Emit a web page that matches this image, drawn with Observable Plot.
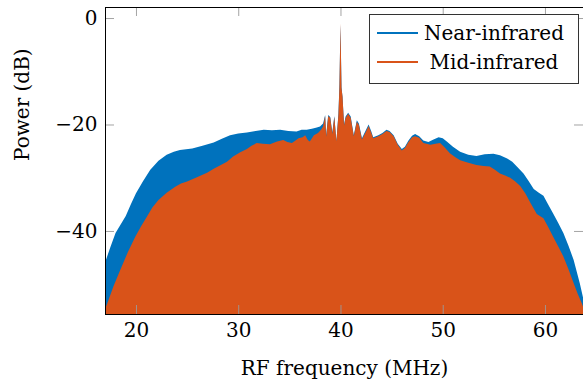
<!DOCTYPE html>
<html>
<head>
<meta charset="utf-8">
<script src="https://cdn.jsdelivr.net/npm/d3@7"></script>
<script src="https://cdn.jsdelivr.net/npm/@observablehq/plot@0.6"></script>
<style>
  html, body { margin: 0; padding: 0; background: #fff; }
  #chart svg { display: block; }
</style>
</head>
<body>
<div id="chart"></div>
<script>
// ---- Data ----
const seriesNames = ["Near-infrared", "Mid-infrared"];
const seriesColors = ["#0072BD", "#D95319"];

const xTicks = [20, 30, 40, 50, 60];
const yTicks = [0, -20, -40];
const xDomain = [16.97, 63.72];
const yDomain = [-55.6, 2.07];

// Near-infrared envelope (MHz, dB)
const nirFreq = [17.0, 17.5, 18.0, 18.5, 19.0, 19.5, 20.0, 20.7, 21.4, 22.2, 23.0, 23.7, 24.3, 25.5, 26.5, 27.6, 28.4, 29.2, 30.0, 30.85, 31.7, 32.5, 33.3, 34.1, 34.9, 35.7, 36.2, 36.7, 37.2, 37.6, 38.0, 38.3, 38.5, 38.6, 38.8, 39.0, 39.2, 39.4, 39.6, 39.8, 39.9, 40.0, 40.1, 40.2, 40.35, 40.5, 40.75, 41.0, 41.3, 41.6, 41.8, 42.1, 42.5, 42.75, 43.0, 43.2, 43.7, 44.1, 44.5, 44.8, 45.2, 45.6, 46.0, 46.3, 46.65, 47.0, 47.3, 47.7, 48.1, 48.6, 49.1, 49.6, 50.0, 50.4, 51.0, 51.7, 52.5, 53.3, 54.1, 54.96, 55.6, 56.3, 56.8, 57.25, 57.9, 58.4, 58.9, 59.4, 59.85, 60.3, 60.8, 61.3, 61.8, 62.3, 62.8, 63.4, 63.7, 64.0];
const nirPower = [-45.8, -43.0, -40.4, -38.8, -37.2, -35.0, -32.9, -30.6, -28.5, -26.8, -25.7, -25.1, -24.8, -24.5, -24.0, -23.4, -22.7, -22.0, -21.7, -21.5, -21.2, -21.0, -21.1, -21.0, -21.2, -21.3, -21.0, -21.0, -20.8, -20.6, -20.4, -19.8, -18.2, -22.0, -18.2, -18.6, -21.5, -18.4, -23.2, -18.0, -12.5, -1.3, -13.0, -14.8, -20.0, -18.5, -17.8, -18.5, -22.0, -19.2, -19.8, -22.6, -21.0, -20.0, -21.2, -22.4, -22.0, -21.6, -21.0, -21.2, -22.0, -23.6, -24.6, -24.2, -23.0, -22.1, -21.8, -22.2, -23.0, -23.3, -22.8, -22.4, -22.6, -23.2, -24.2, -25.1, -25.7, -25.9, -25.6, -25.5, -25.8, -26.4, -27.0, -27.9, -29.2, -30.6, -32.1, -32.8, -33.4, -35.0, -36.7, -38.5, -40.4, -42.8, -45.4, -49.8, -52.3, -55.0];

// Mid-infrared envelope (MHz, dB)
const mirFreq = [17.0, 17.2, 17.8, 18.47, 19.2, 19.93, 20.5, 21.08, 21.6, 22.2, 23.0, 23.84, 24.4, 25.0, 25.96, 27.0, 27.6, 28.3, 28.9, 29.5, 30.2, 30.85, 31.3, 31.8, 32.4, 33.1, 33.8, 34.4, 34.8, 35.25, 35.6, 35.9, 36.3, 36.55, 36.8, 37.0, 37.4, 37.8, 38.1, 38.3, 38.5, 38.6, 38.8, 39.0, 39.2, 39.4, 39.6, 39.8, 39.9, 40.0, 40.1, 40.2, 40.35, 40.5, 40.75, 41.0, 41.3, 41.6, 41.8, 42.1, 42.5, 42.75, 43.0, 43.2, 43.7, 44.1, 44.5, 44.8, 45.2, 45.6, 46.0, 46.3, 46.65, 47.0, 47.3, 47.7, 48.1, 48.8, 49.3, 49.75, 50.2, 50.7, 51.2, 51.7, 52.5, 53.3, 54.0, 54.6, 55.1, 55.6, 56.1, 56.6, 57.1, 57.6, 58.1, 58.6, 59.2, 59.85, 60.3, 60.8, 61.3, 61.8, 62.3, 62.8, 63.2, 63.6, 64.0];
const mirPower = [-54.5, -53.6, -50.4, -47.3, -44.0, -41.1, -39.1, -37.3, -35.6, -34.2, -32.8, -31.7, -31.1, -30.7, -29.9, -29.0, -28.3, -27.6, -27.0, -26.0, -25.2, -24.6, -24.0, -23.5, -23.6, -23.7, -23.2, -22.9, -23.3, -23.5, -23.0, -22.6, -22.4, -22.0, -22.9, -23.2, -22.0, -21.6, -21.0, -20.4, -18.4, -22.3, -18.4, -18.8, -21.8, -18.6, -23.2, -18.2, -12.9, -1.0, -13.2, -14.8, -20.2, -18.8, -18.0, -18.8, -22.2, -19.5, -20.1, -22.8, -21.3, -20.3, -21.5, -22.6, -22.2, -21.8, -21.2, -21.4, -22.2, -23.8, -24.9, -24.4, -23.3, -22.4, -22.2, -22.5, -23.5, -23.8, -23.6, -23.5, -24.3, -25.4, -26.1, -26.7, -27.2, -27.6, -27.8, -27.9, -28.5, -29.2, -29.6, -30.0, -30.7, -31.6, -33.0, -34.8, -36.8, -37.6, -39.2, -41.1, -42.9, -44.8, -47.2, -49.8, -51.8, -53.6, -55.5];

const xLabel = "RF frequency (MHz)";
const yLabel = "Power (dB)";

// ---- Build tables ----
const nirRows = nirFreq.map((f, i) => ({f, p: nirPower[i]}));
const mirRows = mirFreq.map((f, i) => ({f, p: mirPower[i]}));

const W = 583, H = 385;
const mL = 105, mR = 0, mT = 7, mB = 71;
const innerH = H - mT - mB;
const innerW = W - mL - mR;
const tickLen = 9;
const fontFam = "DejaVu Serif";
const fs = 20;
const fmtY = d => d < 0 ? "\u2212" + Math.abs(d) : String(d);

const plot = Plot.plot({
  width: W,
  height: H,
  marginLeft: mL,
  marginRight: mR,
  marginTop: mT,
  marginBottom: mB,
  style: {fontFamily: fontFam, fontSize: fs + "px", color: "#000", background: "#fff", overflow: "visible"},
  x: {domain: xDomain, type: "linear"},
  y: {domain: yDomain, type: "linear"},
  marks: [
    Plot.areaY(nirRows, {x: "f", y1: () => yDomain[0], y2: "p", fill: seriesColors[0], curve: "linear", clip: true}),
    Plot.areaY(mirRows, {x: "f", y1: () => yDomain[0], y2: "p", fill: seriesColors[1], curve: "linear", clip: true}),
    // inward ticks on all four sides
    Plot.ruleX(xTicks, {x: d => d, insetTop: innerH - tickLen, stroke: "#9a9a9a", strokeOpacity: 0.9}),
    Plot.ruleX(xTicks, {x: d => d, insetBottom: innerH - tickLen, stroke: "#9a9a9a", strokeOpacity: 0.9}),
    Plot.ruleY(yTicks, {y: d => d, insetRight: innerW - tickLen, stroke: "#9a9a9a", strokeOpacity: 0.9}),
    Plot.ruleY(yTicks, {y: d => d, insetLeft: innerW - tickLen, stroke: "#9a9a9a", strokeOpacity: 0.9}),
    Plot.axisX(xTicks, {tickSize: 0, tickPadding: 8, label: null, tickFormat: d => String(d), fontSize: fs, fontFamily: fontFam}),
    Plot.axisY(yTicks, {tickSize: 0, tickPadding: 8, label: null, tickFormat: fmtY, fontSize: fs, fontFamily: fontFam}),
    Plot.text([xLabel], {frameAnchor: "bottom", dy: 60, lineAnchor: "bottom", fontSize: fs, fontFamily: fontFam, text: d => d}),
    Plot.text([yLabel], {frameAnchor: "left", dx: -83, rotate: -90, lineAnchor: "middle", fontSize: fs, fontFamily: fontFam, text: d => d}),
    Plot.frame({stroke: "#000", strokeWidth: 1})
  ]
});

document.getElementById("chart").appendChild(plot);

// ---- Legend (inside the plot, top right) ----
const svg = d3.select(plot);
const lg = svg.append("g").attr("font-family", fontFam).attr("font-size", fs);
lg.append("rect").attr("x", 369.5).attr("y", 14.5).attr("width", 209).attr("height", 69)
  .attr("fill", "#fff").attr("stroke", "#333").attr("stroke-width", 1);
seriesNames.forEach((name, i) => {
  const cy = 33 + i * 29;
  lg.append("line").attr("x1", 377).attr("x2", 418).attr("y1", cy).attr("y2", cy)
    .attr("stroke", seriesColors[i]).attr("stroke-width", 2);
  lg.append("text").attr("x", 494).attr("y", cy + 7).attr("text-anchor", "middle")
    .attr("fill", "#000").text(name);
});
</script>
</body>
</html>
